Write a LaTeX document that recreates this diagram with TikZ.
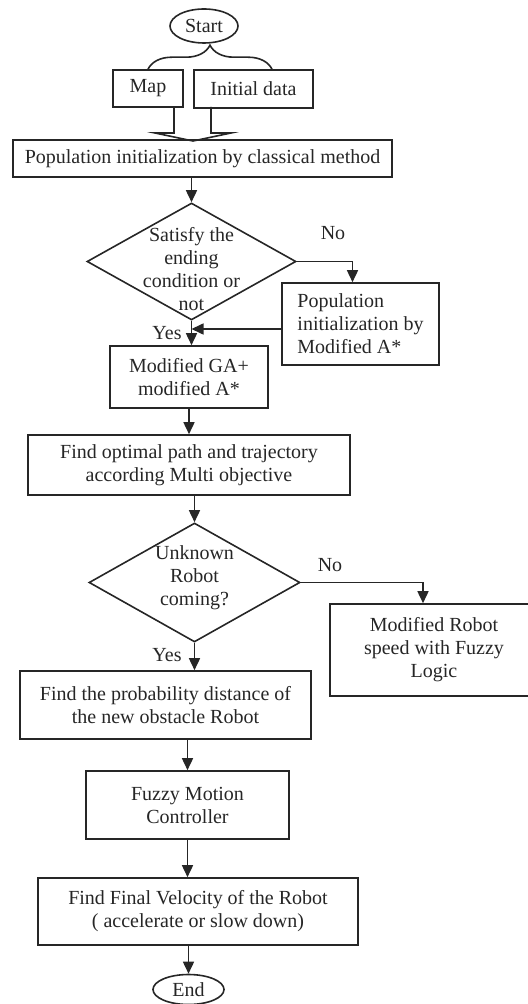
\documentclass[tikz,border=0pt]{standalone}
\usepackage{fontspec}
\setmainfont{Liberation Serif}
\usetikzlibrary{arrows.meta, shapes.geometric, decorations.pathreplacing, positioning, calc}

\tikzset{
  box/.style={draw, rectangle, align=center, inner sep=2pt},
  decision/.style={draw, diamond, inner sep=0pt},
  term/.style={draw, ellipse, inner sep=0pt},
  arr/.style={-{Triangle[length=6pt,width=5.5pt]}},
}

\begin{document}
\begin{tikzpicture}[x=0.5pt, y=-0.5pt, line width=0.8pt, color=black!85, font=\fontsize{10}{11.5}\selectfont]
\useasboundingbox (0,0) rectangle (528,1004);

% top part
\node[term, minimum width=34pt, minimum height=17pt] (start) at (204,26) {Start};
\node[box, minimum width=35pt, minimum height=18.5pt] (map) at (148,88.5) {Map};
\node[box, minimum width=59.5pt, minimum height=19pt] (init) at (253.5,89) {Initial data};
\node[box, minimum width=189.5pt, minimum height=18.5pt] (pop) at (202.5,158.5) {Population initialization by classical method};

\draw[decorate, decoration={brace, amplitude=12pt}] (map.north) -- ([xshift=9.25pt]init.north);
\draw[line join=miter] (174,107) -- (174,133) -- (155,133) -- (193,141) -- (231,133) -- (211,133) -- (211,107);

% first decision
\node[decision, minimum width=104.5pt, minimum height=58.5pt] (d1) at (191.5,261.5) {};
\node[align=center] (d1t) at (191.5,269.5) {Satisfy the\\ending\\condition or\\not};
\node[box, align=left, minimum width=78.5pt, minimum height=41pt] (popA) at (360.5,324) {Population\\initialization by\\Modified A*};
\node[box, minimum width=79pt, minimum height=31pt] (ga) at (189,377) {Modified GA+\\modified A*};
\node (no1) at (333,233) {No};
\node (yes1) at (167,333) {Yes};

\draw[arr] (pop.south -| d1.north) -- (d1.north);
\draw[arr] (d1.east) -| ([xshift=-4pt]popA.north);
\draw[arr] (d1.south) -- (d1.south |- ga.north);
\draw[arr] ([yshift=-2.5pt]popA.west) -- ([yshift=-2.5pt]popA.west -| d1.south);

% second decision
\node[box, minimum width=161pt, minimum height=30pt] (opt) at (189,465) {Find optimal path and trajectory\\according Multi objective};
\node[decision, minimum width=105.5pt, minimum height=59.5pt] (d2) at (194.5,582.5) {};
\node[align=center] (d2t) at (194.5,577.5) {Unknown\\Robot\\coming?};
\node[box, minimum width=104pt, minimum height=46pt] (robot) at (434,650) {Modified Robot\\speed with Fuzzy\\Logic};
\node (no2) at (330,565) {No};
\node (yes2) at (167,655) {Yes};

\draw[arr] (ga.south -| opt.north) -- (opt.north);
\draw[arr] (opt.south -| d2.north) -- (d2.north);
\draw[arr] (d2.east) -| ([xshift=-5.5pt]robot.north);

% bottom part
\node[box, minimum width=145.5pt, minimum height=34pt] (prob) at (165.5,705) {Find the probability distance of\\the new obstacle Robot};
\node[box, minimum width=101.5pt, minimum height=34pt] (fuzzy) at (187.5,805) {Fuzzy Motion\\Controller};
\node[box, minimum width=160pt, minimum height=33.5pt] (final) at (198,911.5) {Find Final Velocity of the Robot\\( accelerate or slow down)};
\node[term, minimum width=35.5pt, minimum height=15pt] (end) at (188.5,989.5) {End};

\draw[arr] (d2.south) -- (d2.south |- prob.north);
\draw[arr] (prob.south -| fuzzy.north) -- (fuzzy.north);
\draw[arr] (fuzzy.south) -- (fuzzy.south |- final.north);
\draw[arr] (final.south -| end.north) -- (end.north);
\end{tikzpicture}
\end{document}
